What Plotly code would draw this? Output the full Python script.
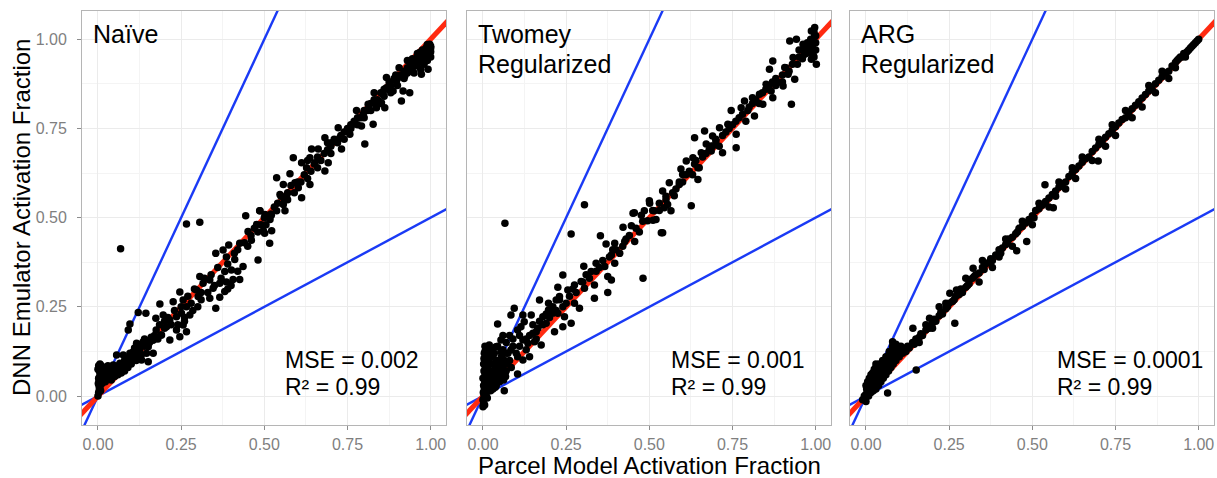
import plotly.graph_objects as go

# ---------------- data ----------------
panel_names = ["Naïve", "Twomey", "ARG"]
panel_labels = [["Naïve"], ["Twomey", "Regularized"], ["ARG", "Regularized"]]
mse_text = ["MSE = 0.002", "MSE = 0.001", "MSE = 0.0001"]
r2_text = ["R² = 0.99", "R² = 0.99", "R² = 0.99"]

tick_vals = [0, 0.25, 0.5, 0.75, 1.0]
tick_text = ["0.00", "0.25", "0.50", "0.75", "1.00"]

ref_slopes = [2.0, 0.5]     # blue guide lines
one_to_one = [1.0]          # red line

naive_pts = [
    (0.0,0.0),(0.002,0.01),(0.004,0.02),(0.003,0.03),(0.005,0.04),(0.002,0.05),(0.006,0.06),(0.004,0.07),
    (0.008,0.08),(0.006,0.09),(0.01,0.085),(0.012,0.07),(0.01,0.05),(0.012,0.035),(0.015,0.06),(0.018,0.08),
    (0.02,0.065),(0.02,0.05),(0.025,0.075),(0.028,0.06),(0.03,0.085),(0.035,0.07),(0.038,0.055),(0.04,0.08),
    (0.045,0.065),(0.05,0.075),(0.055,0.06),(0.06,0.085),(0.065,0.07),(0.07,0.09),(0.075,0.075),(0.08,0.1),
    (0.085,0.085),(0.09,0.095),(0.095,0.11),(0.1,0.09),(0.105,0.105),(0.11,0.12),(0.115,0.1),(0.12,0.11),
    (0.125,0.13),(0.13,0.115),(0.008,0.015),(0.006,0.025),(0.001,0.035),(0.003,0.045),(0.007,0.055),
    (0.009,0.065),(0.0,0.075),(0.002,0.085),(0.015,0.045),(0.022,0.04),(0.03,0.05),(0.04,0.045),(0.05,0.055),
    (0.06,0.06),(0.07,0.065),(0.08,0.07),(0.09,0.08),
    (0.106,0.124),(0.121,0.138),(0.136,0.152),(0.151,0.138),(0.166,0.157),(0.146,0.12),(0.166,0.12),
    (0.151,0.096),(0.131,0.101),(0.116,0.148),(0.096,0.12),(0.076,0.115),(0.056,0.115),(0.086,0.101),
    (0.066,0.092),(0.046,0.087),(0.121,0.234),(0.144,0.232),(0.096,0.202),(0.091,0.185),(0.068,0.413),
    (0.14,0.14),(0.155,0.15),(0.17,0.17),(0.18,0.16),(0.175,0.185),(0.19,0.171),(0.2,0.19),(0.16,0.165),
    (0.125,0.125),(0.11,0.135),(0.14,0.16),(0.13,0.145),(0.185,0.2),
    (0.186,0.258),(0.174,0.218),(0.246,0.292),(0.226,0.264),(0.256,0.269),(0.266,0.25),(0.251,0.232),
    (0.276,0.227),(0.236,0.222),(0.216,0.213),(0.196,0.227),(0.206,0.194),(0.236,0.185),(0.256,0.199),
    (0.266,0.18),(0.246,0.166),(0.216,0.157),(0.191,0.171),(0.166,0.157),(0.266,0.482),(0.306,0.487),
    (0.21,0.22),(0.23,0.24),(0.24,0.2),(0.26,0.22),(0.28,0.26),(0.27,0.28),(0.29,0.3),(0.3,0.25),(0.31,0.29),
    (0.22,0.2),(0.25,0.25),(0.2,0.21),(0.26,0.21),(0.285,0.24),
    (0.296,0.297),(0.301,0.279),(0.336,0.274),(0.366,0.277),(0.381,0.293),(0.346,0.302),(0.354,0.246),
    (0.316,0.316),(0.306,0.335),(0.336,0.325),(0.366,0.316),(0.386,0.32),(0.406,0.327),(0.426,0.327),
    (0.381,0.349),(0.401,0.353),(0.436,0.363),(0.411,0.383),(0.386,0.39),(0.354,0.4),(0.376,0.409),
    (0.393,0.423),(0.426,0.428),(0.461,0.437),(0.451,0.461),(0.501,0.456),(0.481,0.381),(0.516,0.428),
    (0.521,0.507),(0.486,0.519),(0.444,0.505),(0.32,0.33),(0.34,0.34),(0.36,0.36),(0.37,0.33),(0.39,0.37),
    (0.41,0.4),(0.42,0.41),(0.44,0.43),(0.46,0.45),(0.47,0.47),(0.48,0.46),(0.35,0.31),(0.39,0.3),(0.4,0.31),
    (0.33,0.29),(0.42,0.35),(0.45,0.42),(0.49,0.48),(0.31,0.27),
    (0.487,0.519),(0.502,0.509),(0.517,0.495),(0.477,0.481),(0.497,0.463),(0.522,0.463),(0.537,0.519),
    (0.557,0.537),(0.562,0.519),(0.547,0.565),(0.567,0.561),(0.537,0.612),(0.577,0.623),(0.557,0.593),
    (0.592,0.598),(0.612,0.556),(0.602,0.584),(0.637,0.593),(0.587,0.668),(0.612,0.654),(0.637,0.668),
    (0.627,0.64),(0.642,0.692),(0.662,0.692),(0.652,0.654),(0.692,0.654),(0.682,0.631),(0.682,0.724),
    (0.702,0.71),(0.722,0.752),(0.727,0.724),(0.732,0.692),(0.757,0.734),(0.767,0.762),(0.777,0.8),
    (0.792,0.757),(0.802,0.706),(0.797,0.79),(0.812,0.818),(0.827,0.762),(0.837,0.808),(0.852,0.822),
    (0.857,0.846),(0.867,0.864),(0.867,0.893),(0.877,0.879),(0.862,0.808),(0.887,0.855),(0.897,0.883),
    (0.912,0.827),(0.917,0.855),(0.937,0.85),(0.922,0.897),(0.937,0.911),(0.957,0.93),(0.972,0.902),
    (0.992,0.916),(0.982,0.949),(0.967,0.963),(0.997,0.972),(0.997,0.986),(0.987,0.977),
    (0.53,0.53),(0.55,0.56),(0.57,0.57),(0.58,0.59),(0.6,0.6),(0.62,0.62),(0.63,0.61),(0.65,0.65),(0.66,0.67),
    (0.67,0.66),(0.69,0.69),(0.7,0.7),(0.71,0.72),(0.72,0.71),(0.74,0.74),(0.75,0.75),(0.76,0.75),(0.78,0.78),
    (0.79,0.78),(0.8,0.8),(0.81,0.8),(0.82,0.82),(0.83,0.83),(0.84,0.83),(0.85,0.85),(0.86,0.86),(0.87,0.86),
    (0.88,0.87),(0.89,0.89),(0.9,0.89),(0.91,0.9),(0.92,0.91),(0.93,0.92),(0.94,0.93),(0.95,0.94),(0.96,0.95),
    (0.97,0.96),(0.98,0.97),(0.99,0.975),(1.0,0.98),(0.995,0.96),(0.985,0.955),(0.975,0.945),(0.965,0.935),
    (0.955,0.925),(0.99,0.94),(1.0,0.95),(0.98,0.93),(0.97,0.915),(0.95,0.905),(1.0,0.965),(0.99,0.985),
    (0.96,0.96),(0.945,0.945),(0.93,0.905),(0.92,0.89),(0.9,0.87),(0.88,0.85),(0.86,0.84),(0.84,0.82),
    (0.82,0.8),(0.8,0.78),(0.78,0.76),(0.76,0.76),(0.73,0.73),(0.7,0.68),(0.68,0.68),(0.66,0.64),(0.64,0.63),
    (0.61,0.6),(0.59,0.57),(0.56,0.55),(0.54,0.54),(0.52,0.51),(0.5,0.5),(0.505,0.48),(0.57,0.55),(0.63,0.66),
    (0.69,0.71),(0.74,0.72),(0.77,0.77),(0.83,0.85),(0.85,0.82),(0.875,0.88),(0.895,0.9),(0.905,0.92),
    (0.93,0.94),(0.945,0.92),(0.96,0.94),(0.975,0.97),(0.985,0.965),(1.0,0.975),(0.99,0.95),(0.98,0.96),
]

twomey_pts = [
    (0.0,-0.03),(0.002,-0.02),(0.0,-0.01),(0.003,0.0),(0.001,0.01),(0.004,0.02),(0.002,0.03),(0.005,0.04),
    (0.0,0.05),(0.006,0.06),(0.003,0.07),(0.007,0.08),(0.002,0.09),(0.005,0.1),(0.008,0.11),(0.004,0.12),
    (0.01,0.13),(0.006,0.14),(0.01,0.0),(0.012,0.02),(0.015,0.04),(0.012,0.06),(0.015,0.08),(0.018,0.1),
    (0.02,0.12),(0.02,0.03),(0.022,0.05),(0.025,0.07),(0.028,0.09),(0.03,0.11),(0.025,0.13),(0.03,0.02),
    (0.032,0.04),(0.035,0.06),(0.038,0.08),(0.04,0.1),(0.04,0.03),(0.045,0.05),(0.048,0.07),(0.05,0.09),
    (0.055,0.11),(0.05,0.04),(0.058,0.06),(0.06,0.08),(0.065,0.1),(0.06,0.13),(0.07,0.07),(0.072,0.09),
    (0.075,0.12),(0.08,0.1),(0.085,0.08),(0.008,0.05),(0.011,0.09),(0.013,-0.005),(0.017,0.015),
    (0.023,0.015),(0.027,0.03),(0.033,0.05),(0.037,0.025),(0.043,0.075),(0.047,0.095),(0.052,0.065),
    (0.062,0.045),(0.068,0.055),(0.005,-0.025),(0.009,0.03),(0.019,0.065),(0.003,0.105),(0.006,0.125),
    (0.016,0.135),(0.024,0.11),(0.034,0.12),(0.044,0.14),(0.054,0.125),
    (0.066,0.484),(0.305,0.536),(0.265,0.454),(0.353,0.449),(0.37,0.426),(0.396,0.428),(0.421,0.473),
    (0.446,0.477),(0.451,0.512),(0.476,0.507),(0.501,0.54),(0.511,0.493),(0.536,0.458),(0.481,0.33),
    (0.426,0.433),(0.456,0.433),(0.411,0.4),(0.386,0.395),(0.396,0.372),(0.366,0.363),(0.34,0.372),
    (0.303,0.364),(0.325,0.349),(0.375,0.335),(0.386,0.325),(0.335,0.311),(0.305,0.302),(0.295,0.321),
    (0.24,0.339),(0.275,0.311),(0.255,0.297),(0.225,0.305),(0.23,0.279),(0.335,0.274),(0.375,0.29),
    (0.29,0.246),(0.275,0.26),(0.25,0.26),(0.22,0.269),(0.197,0.26),(0.17,0.269),(0.197,0.241),(0.18,0.222),
    (0.21,0.232),(0.225,0.232),(0.245,0.222),(0.265,0.204),(0.24,0.194),(0.215,0.18),(0.19,0.204),
    (0.145,0.227),(0.12,0.227),(0.094,0.246),(0.084,0.227),(0.165,0.19),(0.15,0.176),(0.155,0.152),
    (0.175,0.143),(0.135,0.148),(0.12,0.157),(0.104,0.185),(0.114,0.194),(0.124,0.208),(0.044,0.202),
    (0.019,0.143),(0.039,0.138),(0.054,0.157),(0.069,0.12),(0.084,0.129),(0.104,0.11),(0.12,0.101),
    (0.14,0.11),(0.104,0.062),(0.064,0.015),
    (0.1,0.12),(0.11,0.14),(0.13,0.16),(0.14,0.17),(0.16,0.18),(0.18,0.2),(0.2,0.22),(0.22,0.24),(0.24,0.25),
    (0.26,0.28),(0.28,0.29),(0.3,0.32),(0.32,0.33),(0.34,0.35),(0.36,0.38),(0.38,0.39),(0.4,0.41),(0.42,0.42),
    (0.44,0.45),(0.46,0.47),(0.48,0.49),(0.09,0.16),(0.08,0.17),(0.07,0.15),(0.06,0.17),(0.09,0.14),(0.11,0.17),
    (0.15,0.2),(0.17,0.21),(0.19,0.23),(0.21,0.25),(0.23,0.27),(0.27,0.3),(0.31,0.34),(0.35,0.36),(0.39,0.41),
    (0.43,0.44),(0.47,0.46),(0.13,0.13),(0.16,0.16),
    (0.455,0.514),(0.485,0.519),(0.5,0.547),(0.515,0.519),(0.495,0.491),(0.54,0.458),(0.52,0.495),
    (0.545,0.528),(0.555,0.537),(0.565,0.519),(0.575,0.561),(0.626,0.533),(0.54,0.575),(0.56,0.598),
    (0.59,0.593),(0.6,0.621),(0.595,0.636),(0.611,0.659),(0.631,0.668),(0.636,0.65),(0.646,0.607),
    (0.646,0.64),(0.656,0.682),(0.636,0.724),(0.666,0.743),(0.671,0.706),(0.686,0.701),(0.69,0.729),
    (0.686,0.687),(0.7,0.715),(0.711,0.752),(0.72,0.682),(0.736,0.762),(0.746,0.8),(0.761,0.734),
    (0.761,0.696),(0.776,0.808),(0.786,0.827),(0.796,0.8),(0.81,0.836),(0.816,0.785),(0.831,0.846),
    (0.841,0.818),(0.851,0.874),(0.866,0.855),(0.871,0.836),(0.861,0.916),(0.871,0.939),(0.886,0.879),
    (0.902,0.869),(0.907,0.921),(0.927,0.818),(0.917,0.902),(0.937,0.888),(0.932,0.949),(0.942,1.0),
    (0.922,0.995),(0.962,0.986),(0.967,0.958),(0.987,1.023),(0.997,1.009),(0.992,0.991),(0.977,0.977),
    (0.992,0.958),(1.002,0.93),(0.987,0.944),(0.997,1.033),
    (0.51,0.52),(0.53,0.54),(0.55,0.56),(0.58,0.58),(0.6,0.6),(0.62,0.63),(0.64,0.66),(0.66,0.67),(0.68,0.69),
    (0.7,0.72),(0.72,0.73),(0.74,0.75),(0.76,0.77),(0.78,0.79),(0.8,0.81),(0.82,0.83),(0.84,0.85),(0.86,0.87),
    (0.88,0.89),(0.9,0.9),(0.91,0.92),(0.93,0.93),(0.95,0.95),(0.96,0.97),(0.97,0.98),(0.98,0.99),(0.99,1.0),
    (1.0,1.01),(1.0,0.99),(0.99,0.98),(0.98,0.97),(0.995,1.02),(0.985,1.0),(0.975,0.99),(1.0,0.97),
    (0.995,0.95),(0.985,0.96),(0.97,0.96),(0.96,0.945),(0.95,0.97),(0.945,0.93),(0.92,0.91),(0.9,0.88),
    (0.88,0.87),(0.87,0.88),(0.85,0.86),(0.83,0.82),(0.81,0.82),(0.79,0.77),(0.77,0.78),(0.75,0.76),
    (0.73,0.74),(0.71,0.7),(0.69,0.7),(0.67,0.68),(0.65,0.64),(0.63,0.62),(0.61,0.62),(0.59,0.6),(0.57,0.57),
    (0.55,0.55),(0.53,0.52),
]

arg_pts = [
    (-0.01,-0.01),(-0.005,0.0),(0.0,-0.015),(0.0,0.005),(0.005,0.01),(0.002,0.02),(0.008,0.0),(0.01,0.015),
    (0.012,0.03),(0.015,0.01),(0.018,0.025),(0.02,0.04),(0.022,0.015),(0.025,0.03),(0.028,0.05),(0.03,0.02),
    (0.032,0.04),(0.035,0.06),(0.038,0.03),(0.04,0.05),(0.042,0.07),(0.045,0.04),(0.048,0.06),(0.05,0.08),
    (0.052,0.05),(0.055,0.07),(0.058,0.09),(0.06,0.06),(0.062,0.08),(0.065,0.1),(0.068,0.07),(0.07,0.09),
    (0.072,0.11),(0.075,0.08),(0.078,0.1),(0.08,0.12),(0.082,0.09),(0.085,0.11),(0.088,0.13),(0.09,0.1),
    (0.0,0.03),(0.005,0.04),(0.01,0.05),(0.015,0.06),(0.02,0.065),(0.025,0.075),(0.03,0.08),(0.04,0.09),
    (0.05,0.1),(0.06,0.11),(0.07,0.125),(0.08,0.14),(0.09,0.145),(0.065,0.009),(0.151,0.073),(0.03,0.09),
    (0.08,0.152),(0.095,0.12),(0.1,0.11),(0.1,0.13),(0.105,0.14),(0.11,0.12),
    (0.11,0.13),(0.12,0.125),(0.125,0.14),(0.13,0.135),(0.14,0.15),(0.145,0.145),(0.15,0.16),(0.16,0.165),
    (0.165,0.175),(0.17,0.17),(0.18,0.185),(0.185,0.195),(0.19,0.19),(0.2,0.205),(0.205,0.215),(0.21,0.21),
    (0.22,0.225),(0.225,0.235),(0.23,0.23),(0.24,0.245),(0.245,0.25),(0.25,0.26),(0.26,0.265),(0.265,0.27),
    (0.27,0.28),(0.28,0.285),(0.285,0.3),(0.29,0.29),(0.3,0.305),(0.305,0.31),(0.31,0.315),(0.32,0.33),
    (0.325,0.335),(0.33,0.34),(0.34,0.345),(0.35,0.36),(0.355,0.355),(0.36,0.37),(0.37,0.375),(0.375,0.385),
    (0.38,0.38),(0.39,0.395),(0.4,0.41),(0.405,0.4),(0.41,0.415),(0.42,0.425),(0.425,0.43),(0.43,0.44),
    (0.44,0.445),(0.45,0.455),(0.455,0.46),(0.46,0.47),(0.47,0.475),(0.48,0.485),(0.49,0.495),(0.5,0.505),
    (0.505,0.5),(0.51,0.52),(0.52,0.525),(0.53,0.535),(0.54,0.545),(0.55,0.555),(0.56,0.565),(0.57,0.575),
    (0.58,0.585),(0.59,0.595),(0.6,0.6),(0.61,0.615),(0.62,0.625),(0.63,0.635),(0.64,0.645),(0.65,0.655),
    (0.66,0.665),(0.67,0.67),(0.68,0.685),(0.69,0.695),(0.7,0.705),(0.71,0.715),(0.72,0.725),(0.73,0.735),
    (0.74,0.745),(0.75,0.755),(0.76,0.765),(0.77,0.775),(0.78,0.78),(0.79,0.795),(0.8,0.805),(0.81,0.815),
    (0.82,0.825),(0.83,0.835),(0.84,0.845),(0.85,0.855),(0.86,0.86),(0.87,0.875),(0.88,0.885),(0.89,0.895),
    (0.9,0.905),(0.91,0.91),(0.92,0.925),(0.93,0.935),(0.94,0.945),(0.95,0.95),(0.96,0.96),(0.97,0.97),
    (0.98,0.98),(0.99,0.99),(1.0,1.0),(0.995,0.995),(0.985,0.985),(0.975,0.975),(0.965,0.965),(0.955,0.96),
    (0.945,0.95),(0.935,0.94),
    (0.267,0.204),(0.191,0.218),(0.141,0.19),(0.322,0.358),(0.453,0.407),(0.483,0.433),(0.252,0.288),
    (0.272,0.297),(0.22,0.25),(0.18,0.2),(0.16,0.15),(0.3,0.33),(0.35,0.38),(0.38,0.36),(0.42,0.44),
    (0.44,0.42),(0.47,0.49),(0.5,0.48),(0.52,0.54),(0.55,0.53),(0.58,0.6),(0.6,0.58),(0.63,0.61),(0.65,0.67),
    (0.68,0.66),(0.7,0.72),(0.72,0.7),(0.75,0.73),(0.78,0.8),(0.8,0.78),(0.83,0.81),(0.85,0.87),(0.87,0.85),
    (0.89,0.91),(0.91,0.89),(0.93,0.92),(0.96,0.95),(0.74,0.76),(0.62,0.64),(0.57,0.56),(0.4,0.39),
    (0.34,0.32),(0.24,0.26),(0.2,0.19),(0.698,0.659),(0.563,0.528),(0.538,0.592),
]

panel_points = [naive_pts, twomey_pts, arg_pts]

# ---------------- styling / layout ----------------
W, H = 1217, 478
FONT = "Liberation Sans"
X_RANGE = [-0.048, 1.046]
Y_RANGE = [-0.081, 1.079]
panel_left = [82, 467, 850]
panel_w = 364
plot_top, plot_bot = 11, 425
ML, MR, MT, MB = 82, W - 1214, plot_top, H - plot_bot
plot_w = W - ML - MR
plot_h = H - MT - MB

def yfrac(py):
    return (plot_bot - py) / plot_h

fig = go.Figure()
for i, pts in enumerate(panel_points):
    xa = "x" if i == 0 else f"x{i+1}"
    ya = "y" if i == 0 else f"y{i+1}"
    lx = [X_RANGE[0] - 0.1, X_RANGE[1] + 0.1]
    for s in ref_slopes:
        fig.add_trace(go.Scatter(x=lx, y=[s * v for v in lx], mode="lines",
                                 line=dict(color="#1a3af5", width=2.4),
                                 xaxis=xa, yaxis=ya, showlegend=False, hoverinfo="skip"))
    for s in one_to_one:
        fig.add_trace(go.Scatter(x=lx, y=[s * v for v in lx], mode="lines",
                                 line=dict(color="#ff2a10", width=5),
                                 xaxis=xa, yaxis=ya, showlegend=False, hoverinfo="skip"))
    fig.add_trace(go.Scatter(x=[p[0] for p in pts], y=[p[1] for p in pts], mode="markers",
                             marker=dict(color="black", size=7.5, line=dict(width=0)),
                             xaxis=xa, yaxis=ya, showlegend=False, name=panel_names[i]))

axis_common = dict(
    showgrid=True, gridcolor="#ebebeb", gridwidth=1.3, zeroline=False,
    showline=True, mirror=True, linecolor="#b5b5b5", linewidth=1,
    ticks="outside", ticklen=4, tickwidth=1, tickcolor="#8c8c8c",
    tickfont=dict(family=FONT, size=16, color="#7f7f7f"),
    tickmode="array", tickvals=tick_vals, ticktext=tick_text,
    minor=dict(tickmode="array", tickvals=[0.125, 0.375, 0.625, 0.875],
               showgrid=True, gridcolor="#f4f4f4", gridwidth=0.7, ticks=""),
    fixedrange=True,
)

layout = dict(width=W, height=H, margin=dict(l=ML, r=MR, t=MT, b=MB, autoexpand=False),
              paper_bgcolor="white", plot_bgcolor="white", showlegend=False,
              font=dict(family=FONT))
for i in range(3):
    d0 = (panel_left[i] - ML) / plot_w
    d1 = (panel_left[i] + panel_w - ML) / plot_w
    xk = "xaxis" if i == 0 else f"xaxis{i+1}"
    yk = "yaxis" if i == 0 else f"yaxis{i+1}"
    layout[xk] = dict(axis_common, domain=[d0, min(d1, 1.0)], range=X_RANGE,
                      anchor="y" if i == 0 else f"y{i+1}", ticklabelstandoff=1)
    yax = dict(axis_common, domain=[0, 1], range=Y_RANGE,
               anchor="x" if i == 0 else f"x{i+1}", ticklabelstandoff=7)
    if i > 0:
        yax.update(showticklabels=False, ticks="", matches="y")
    layout[yk] = yax
fig.update_layout(**layout)

ann = []
label_y = [34, 64]
for i in range(3):
    xr = "x domain" if i == 0 else f"x{i+1} domain"
    for j, t in enumerate(panel_labels[i]):
        ann.append(dict(text=t, xref=xr, yref="y domain", x=9 / panel_w, y=yfrac(label_y[j]),
                        xanchor="left", yanchor="middle", showarrow=False,
                        font=dict(family=FONT, size=25, color="black")))
    mx = [201, 202, 205][i] / panel_w
    ann.append(dict(text=mse_text[i], xref=xr, yref="y domain", x=mx, y=yfrac(360),
                    xanchor="left", yanchor="middle", showarrow=False,
                    font=dict(family=FONT, size=23, color="black")))
    ann.append(dict(text=r2_text[i], xref=xr, yref="y domain", x=mx, y=yfrac(387),
                    xanchor="left", yanchor="middle", showarrow=False,
                    font=dict(family=FONT, size=23, color="black")))

ann.append(dict(text="Parcel Model Activation Fraction", xref="x2 domain", yref="y domain",
                x=0.5, y=yfrac(465), xanchor="center", yanchor="middle", showarrow=False,
                font=dict(family=FONT, size=24, color="black")))
ann.append(dict(text="DNN Emulator Activation Fraction", xref="x domain", yref="y domain",
                x=(21 - 82) / panel_w, y=0.5, xanchor="center", yanchor="middle", showarrow=False,
                textangle=-90, font=dict(family=FONT, size=24, color="black")))
fig.update_layout(annotations=ann)

fig.write_html("out.html")
